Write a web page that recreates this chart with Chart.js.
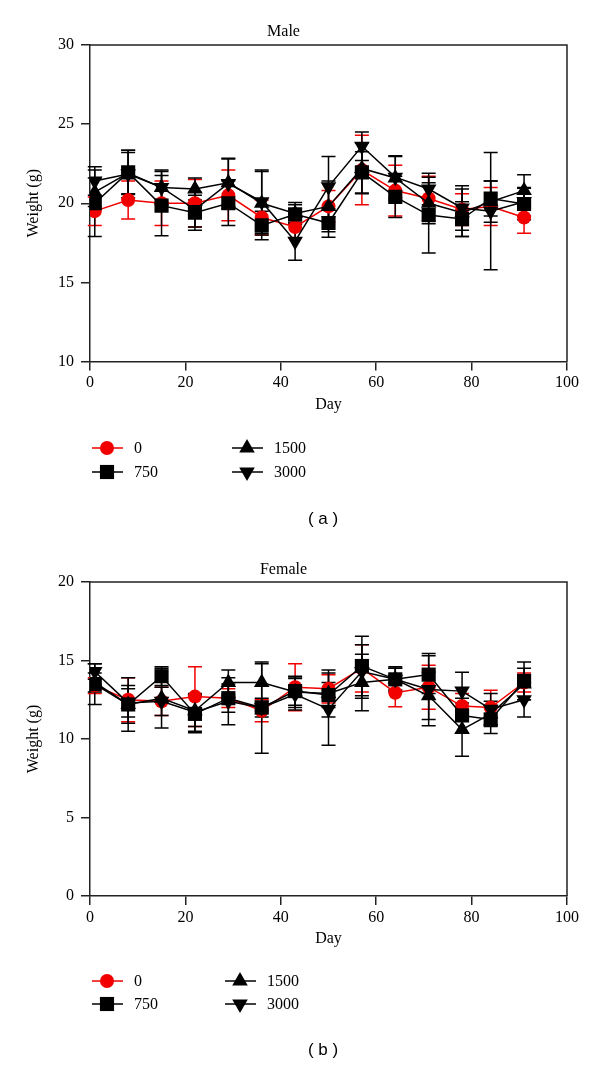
<!DOCTYPE html>
<html>
<head>
<meta charset="utf-8">
<script src="https://cdn.jsdelivr.net/npm/chart.js@4/dist/chart.umd.min.js"></script>
<style>
  body { margin: 0; background: #fff; }
  canvas { display: block; }
</style>
</head>
<body>
<canvas id="maleChart" width="600" height="535"></canvas>
<canvas id="femaleChart" width="600" height="536"></canvas>
<script>
// dias de pesagem
const days = [1, 8, 15, 22, 29, 36, 43, 50, 57, 64, 71, 78, 84, 91];
const doseLabels = ['0', '750', '1500', '3000'];
const xTicks = [0, 20, 40, 60, 80, 100];

// Male - médias (g)
const male0    = [19.5, 20.2, 20.0, 20.0, 20.5, 19.1, 18.5, 19.8, 22.1, 20.8, 20.3, 19.6, 19.8, 19.1];
const male750  = [20.0, 21.95, 19.85, 19.4, 20.0, 18.6, 19.3, 18.75, 21.95, 20.4, 19.25, 19.0, 20.3, 19.95];
const male1500 = [20.7, 21.9, 21.0, 20.9, 21.3, 20.0, 19.35, 19.8, 22.2, 21.6, 20.0, 19.4, 20.1, 20.8];
const male3000 = [21.4, 21.85, 21.0, 19.6, 21.25, 20.1, 17.6, 21.05, 23.6, 21.65, 20.9, 19.7, 19.5, 20.1];
// Male - desvio padrão
const maleSd0    = [0.9, 1.2, 1.4, 1.5, 1.6, 1.1, 0.7, 1.0, 2.2, 1.6, 1.4, 1.0, 1.2, 1.0];
const maleSd750  = [2.1, 1.4, 1.9, 1.1, 1.4, 0.9, 0.6, 0.9, 1.3, 1.3, 2.4, 1.1, 1.1, 1.0];
const maleSd1500 = [0.9, 1.3, 1.1, 0.7, 1.5, 2.0, 0.7, 1.6, 1.6, 1.4, 1.3, 1.5, 1.3, 1.0];
const maleSd3000 = [0.9, 1.5, 1.0, 1.1, 1.6, 2.0, 1.2, 1.9, 0.9, 1.3, 1.0, 1.4, 3.7, 0.9];

// Female - médias (g)
const fem0    = [13.4, 12.5, 12.4, 12.7, 12.6, 11.8, 13.3, 13.2, 14.5, 12.95, 13.3, 12.1, 12.0, 13.6];
const fem750  = [13.5, 12.2, 14.0, 11.6, 12.6, 12.0, 13.05, 12.8, 14.65, 13.8, 14.1, 11.5, 11.25, 13.7];
const fem1500 = [13.6, 12.2, 12.6, 11.8, 13.6, 13.6, 13.0, 12.9, 13.6, 13.8, 12.75, 10.6, 11.6, 13.5];
const fem3000 = [14.3, 12.3, 12.4, 11.7, 12.4, 12.0, 12.85, 11.9, 14.3, 13.8, 13.15, 13.05, 11.9, 12.5];
// Female - desvio padrão
const femSd0    = [0.5, 1.4, 0.9, 1.9, 0.6, 0.7, 1.5, 0.9, 1.5, 0.9, 1.4, 0.8, 1.1, 0.6];
const femSd750  = [1.3, 1.7, 0.6, 1.2, 0.9, 2.9, 0.9, 0.8, 1.9, 0.7, 1.2, 1.1, 0.9, 1.2];
const femSd1500 = [0.6, 1.2, 1.9, 1.0, 0.8, 1.2, 1.0, 1.5, 1.8, 0.8, 1.5, 1.7, 0.8, 1.0];
const femSd3000 = [0.5, 0.9, 0.9, 1.2, 1.5, 0.6, 1.0, 2.3, 1.7, 0.7, 2.3, 1.2, 1.0, 1.1];

const SERIF = '"Liberation Serif", "DejaVu Serif", serif';
const RED = '#f20000', BLACK = '#000';

// estilo de cada grupo: cor, marcador, ordem de desenho
const styles = [
  { color: RED,   pointStyle: 'circle',   radius: 7,   rotation: 0,   order: 4 },
  { color: BLACK, pointStyle: 'rect',     radius: 10,  rotation: 0,   order: 1 },
  { color: BLACK, pointStyle: 'triangle', radius: 9,   rotation: 0,   order: 2 },
  { color: BLACK, pointStyle: 'triangle', radius: 9,   rotation: 180, order: 3 }
];

// barras de erro (média ± DP)
const errorBars = {
  id: 'errorBars',
  beforeDatasetsDraw(chart) {
    const ctx = chart.ctx, y = chart.scales.y;
    const idx = chart.data.datasets.map((d, i) => i).sort((a, b) => chart.data.datasets[b].order - chart.data.datasets[a].order);
    ctx.save();
    ctx.lineWidth = 1.5;
    idx.forEach(i => {
      const ds = chart.data.datasets[i];
      const meta = chart.getDatasetMeta(i);
      ctx.strokeStyle = ds.borderColor;
      meta.data.forEach((pt, j) => {
        const m = ds.data[j].y, s = ds.sd[j];
        const yt = y.getPixelForValue(m + s), yb = y.getPixelForValue(m - s);
        ctx.beginPath();
        ctx.moveTo(pt.x, yt); ctx.lineTo(pt.x, yb);
        ctx.moveTo(pt.x - 7, yt); ctx.lineTo(pt.x + 7, yt);
        ctx.moveTo(pt.x - 7, yb); ctx.lineTo(pt.x + 7, yb);
        ctx.stroke();
      });
    });
    ctx.restore();
  }
};

// moldura da área do gráfico (topo e direita)
const frameBox = {
  id: 'frameBox',
  beforeDraw(chart) {
    const { ctx, chartArea: a } = chart;
    ctx.save();
    ctx.strokeStyle = '#222'; ctx.lineWidth = 1.5;
    ctx.beginPath();
    ctx.moveTo(a.left, a.top); ctx.lineTo(a.right, a.top); ctx.lineTo(a.right, a.bottom);
    ctx.stroke();
    ctx.restore();
  }
};

// legenda em duas colunas + rótulo do painel
const sideLegend = {
  id: 'sideLegend',
  afterDraw(chart, args, opts) {
    const ctx = chart.ctx;
    ctx.save();
    opts.slots.forEach((s, i) => {
      const ds = chart.data.datasets[i];
      ctx.strokeStyle = ds.borderColor; ctx.lineWidth = 1.5;
      ctx.beginPath(); ctx.moveTo(s.x - 15, s.y); ctx.lineTo(s.x + 16, s.y); ctx.stroke();
      ctx.fillStyle = ds.pointBackgroundColor;
      Chart.helpers.drawPoint(ctx, { pointStyle: ds.pointStyle, radius: ds.pointRadius, rotation: ds.pointRotation, borderWidth: 0 }, s.x, s.y);
      ctx.fillStyle = '#000';
      ctx.font = '16px ' + SERIF;
      ctx.textBaseline = 'middle'; ctx.textAlign = 'left';
      ctx.fillText(ds.label, s.x + 27, s.y + 1);
    });
    ctx.font = '17px "Liberation Sans", Arial, sans-serif';
    ctx.textAlign = 'center';
    ctx.fillText(opts.panel, opts.panelX, opts.panelY);
    ctx.restore();
  }
};

function makeChart(id, title, means, sds, yMin, yMax, lay) {
  const datasets = means.map((arr, k) => ({
    label: doseLabels[k],
    data: days.map((d, j) => ({ x: d, y: arr[j] })),
    sd: sds[k],
    borderColor: styles[k].color,
    backgroundColor: styles[k].color,
    pointBackgroundColor: styles[k].color,
    pointBorderWidth: 0,
    pointStyle: styles[k].pointStyle,
    pointRadius: styles[k].radius,
    pointRotation: styles[k].rotation,
    borderWidth: 1.5,
    tension: 0,
    order: styles[k].order
  }));
  const axisFont = { family: SERIF, size: 16 };
  return new Chart(document.getElementById(id), {
    type: 'line',
    data: { datasets },
    options: {
      responsive: false,
      animation: false,
      layout: { padding: { left: 0, right: 33, top: 0, bottom: lay.padBottom } },
      scales: {
        x: {
          type: 'linear', min: 0, max: 100,
          afterBuildTicks: s => { s.ticks = xTicks.map(v => ({ value: v })); },
          afterFit: s => { s.height = 70; },
          grid: { display: true, drawOnChartArea: false, drawTicks: true, tickLength: 9, color: '#222', lineWidth: 1.5 },
          border: { display: true, color: '#222', width: 1.5 },
          ticks: { color: '#000', font: axisFont, padding: 3, maxRotation: 0 },
          title: { display: true, text: 'Day', color: '#000', font: axisFont, padding: { top: 0, bottom: lay.dayPad } }
        },
        y: {
          min: yMin, max: yMax,
          afterFit: s => { s.width = 90; },
          grid: { display: true, drawOnChartArea: false, drawTicks: true, tickLength: 9, color: '#222', lineWidth: 1.5 },
          border: { display: true, color: '#222', width: 1.5 },
          ticks: { color: '#000', font: axisFont, stepSize: 5, padding: 7 },
          title: { display: true, text: 'Weight (g)', color: '#000', font: axisFont, padding: { top: 24, bottom: 0 } }
        }
      },
      plugins: {
        legend: { display: false },
        tooltip: { enabled: false },
        title: { display: true, text: title, color: '#000', font: { family: SERIF, size: 16, weight: 'normal' }, padding: { top: lay.titleTop, bottom: lay.titleBottom } },
        sideLegend: { slots: lay.slots, panel: lay.panel, panelX: 323, panelY: lay.panelY }
      }
    },
    plugins: [frameBox, errorBars, sideLegend]
  });
}

makeChart('maleChart', 'Male',
  [male0, male750, male1500, male3000],
  [maleSd0, maleSd750, maleSd1500, maleSd3000],
  10, 30,
  { padBottom: 103.5, dayPad: 17, titleTop: 22, titleBottom: 3.8, panel: '( a )', panelY: 519,
    slots: [{ x: 107, y: 448 }, { x: 107, y: 472 }, { x: 247, y: 448 }, { x: 247, y: 472 }] });

makeChart('femaleChart', 'Female',
  [fem0, fem750, fem1500, fem3000],
  [femSd0, femSd750, femSd1500, femSd3000],
  0, 20,
  { padBottom: 105, dayPad: 18, titleTop: 25, titleBottom: 2.8, panel: '( b )', panelY: 515,
    slots: [{ x: 107, y: 446 }, { x: 107, y: 469 }, { x: 240, y: 446 }, { x: 240, y: 469 }] });
</script>
</body>
</html>
